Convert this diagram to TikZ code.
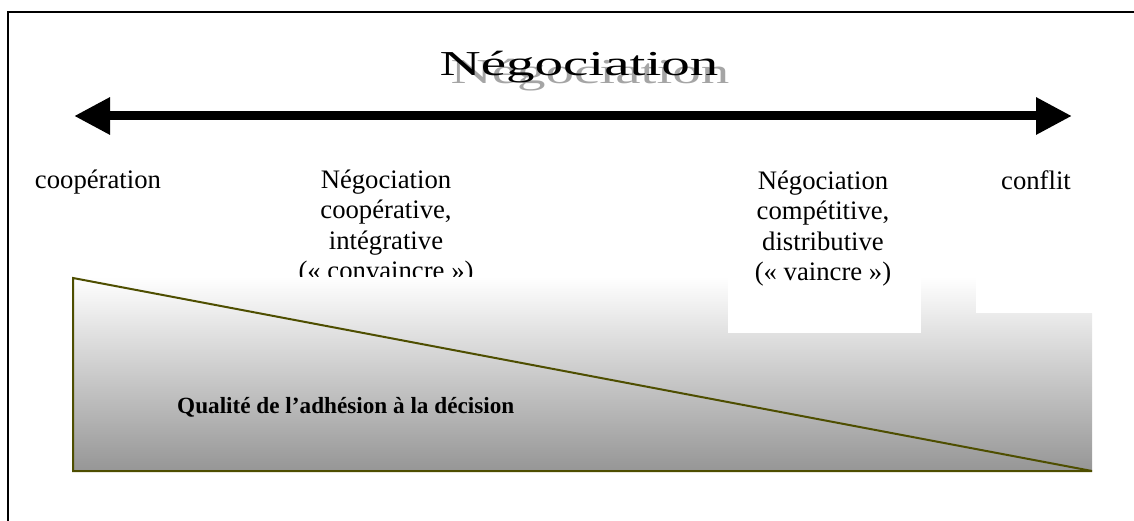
\documentclass[tikz,border=0pt]{standalone}
\usepackage{fontspec}
\usepackage{graphicx}
\setmainfont{Liberation Serif}
\usetikzlibrary{arrows.meta}
\definecolor{olivedark}{RGB}{78,78,0}
\definecolor{shadowgray}{RGB}{165,165,165}
\definecolor{gradbottom}{RGB}{150,150,150}
\begin{document}
\begin{tikzpicture}[x=1pt,y=-1pt,
  lbl/.style={inner sep=0pt, align=center, font=\fontsize{26.7}{30.5}\selectfont},
  titlefont/.style={inner sep=0pt, font=\fontsize{35}{40}\selectfont},
  frameline/.style={line width=2pt, black},
  tri/.style={line width=2pt, draw=olivedark, line join=miter},
  bigarrow/.style={line width=9pt, {Triangle[length=36pt,width=35pt]}-{Triangle[length=36pt,width=35pt]}}
]
\useasboundingbox (0,0) rectangle (1134,521);
% frame
\draw[frameline] (8,521) -- (8,12) -- (1134,12);
% title with shadow
\node[titlefont, anchor=base, text=shadowgray] (titleshadow) at (590,84) {\scalebox{1.63}[1]{Négociation}};
\node[titlefont, anchor=base, text=black] (title) at (579,76) {\scalebox{1.63}[1]{Négociation}};
% double arrow
\coordinate (aL) at (74,116);
\coordinate (aR) at (1072,116);
\draw[bigarrow] (aL) -- (aR);
% labels
\node[lbl, anchor=north] (coop) at (98,169.5) {coopération};
\node[lbl, anchor=north] (negcoop) at (386,169.5) {Négociation\\coopérative,\\intégrative\\(« convaincre »)};
% gradient area
\shade[top color=white, bottom color=gradbottom] (73,277) rectangle (1092,471);
\draw[tri] (73,278) -- (1092,471) -- (73,471) -- cycle;
% white boxes on top
\fill[white] (728,160) rectangle (921,333);
\fill[white] (976,160) rectangle (1093,313);
\node[lbl, anchor=north] (negcomp) at (823,170.5) {Négociation\\compétitive,\\distributive\\(« vaincre »)};
\node[lbl, anchor=north] (conflit) at (1036,170.5) {conflit};
\node[inner sep=0pt, anchor=base west, font=\fontsize{23.2}{27}\selectfont\bfseries] (qual) at (177,413) {Qualité de l’adhésion à la décision};
\end{tikzpicture}
\end{document}
